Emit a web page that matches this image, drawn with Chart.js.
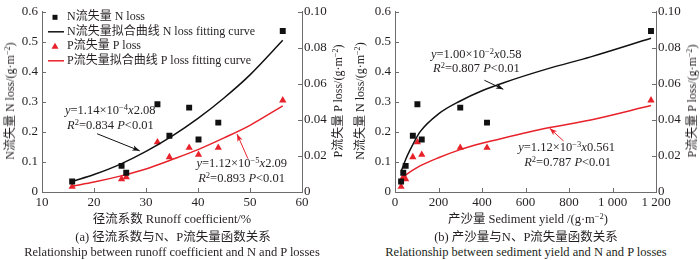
<!DOCTYPE html>
<html lang="zh-CN">
<head>
<meta charset="UTF-8">
<title>径流系数、产沙量与N、P流失量函数关系</title>
<script src="https://cdn.jsdelivr.net/npm/chart.js"></script>
<style>
  body {
    margin: 0;
    width: 700px;
    height: 260px;
    overflow: hidden;
    position: relative;
    background: #fff;
    color: #231f20;
    font-family: "Liberation Serif", "Noto Sans CJK SC", serif;
  }
  .box { position: absolute; top: 0; width: 350px; height: 210px; }
  .txt { position: absolute; white-space: nowrap; font-size: 12.5px; line-height: 1; }
  .mid { transform: translate(-50%, -50%); }
  .rgt { transform: translate(-100%, -50%); }
  .lft { transform: translate(0, -50%); }
  .ytitle {
    position: absolute; white-space: nowrap; font-size: 12px; line-height: 1;
    transform: translate(-50%, -50%) rotate(-90deg);
  }
  sup { font-size: 68%; vertical-align: 0.5em; line-height: 0; }
</style>
</head>
<body>
  <div class="box" style="left:0"><canvas id="chartA"></canvas></div>
  <div class="box" style="left:350px"><canvas id="chartB"></canvas></div>

  <!-- titulos dos eixos y -->
  <div class="ytitle" style="left:10px;top:101px">N流失量 N loss/(g·m<sup>−2</sup>)</div>
  <div class="ytitle" style="left:338px;top:101px">P流失量 P loss/(g·m<sup>−2</sup>)</div>
  <div class="ytitle" style="left:360px;top:101px">N流失量 N loss/(g·m<sup>−2</sup>)</div>
  <div class="ytitle" style="left:692px;top:101px">P流失量 P loss/(g·m<sup>−2</sup>)</div>

  <!-- equacoes -->
  <div class="txt lft" style="left:65px;top:110px"><i>y</i>=1.14×10<sup>−4</sup><i>x</i>2.08</div>
  <div class="txt lft" style="left:67px;top:125px"><i>R</i><sup>2</sup>=0.834 <i>P</i>&lt;0.01</div>
  <div class="txt rgt" style="left:287px;top:163px"><i>y</i>=1.12×10<sup>−5</sup><i>x</i>2.09</div>
  <div class="txt rgt" style="left:285px;top:178px"><i>R</i><sup>2</sup>=0.893 <i>P</i>&lt;0.01</div>
  <div class="txt lft" style="left:431px;top:54px"><i>y</i>=1.00×10<sup>−2</sup><i>x</i>0.58</div>
  <div class="txt lft" style="left:433px;top:68px"><i>R</i><sup>2</sup>=0.807 <i>P</i>&lt;0.01</div>
  <div class="txt rgt" style="left:615px;top:147px"><i>y</i>=1.12×10<sup>−3</sup><i>x</i>0.561</div>
  <div class="txt rgt" style="left:611px;top:162px"><i>R</i><sup>2</sup>=0.787 <i>P</i>&lt;0.01</div>

  <!-- titulos x e legendas das figuras -->
  <div class="txt mid" style="left:172px;top:219px">径流系数 Runoff coefficient/%</div>
  <div class="txt mid" style="left:173px;top:237px">(a) 径流系数与N、P流失量函数关系</div>
  <div class="txt mid" style="left:172px;top:252px">Relationship between runoff coefficient and N and P losses</div>
  <div class="txt mid" style="left:528px;top:219px">产沙量 Sediment yield /(g·m<sup>−2</sup>)</div>
  <div class="txt mid" style="left:526px;top:237px">(b) 产沙量与N、P流失量函数关系</div>
  <div class="txt mid" style="left:526px;top:252px">Relationship between sediment yield and N and P losses</div>

<script>
  // eventos (mesma ordem nos dois graficos)
  const runoffCoef    = [15.8, 25.3, 26.2, 32.2, 34.5, 38.3, 40.1, 43.9, 56.3];
  const sedimentYield = [28, 49, 38, 103, 82, 300, 123, 423, 1177];
  const nLoss = [0.035, 0.087, 0.064, 0.292, 0.187, 0.281, 0.175, 0.231, 0.536];
  const pLoss = [0.0030, 0.0072, 0.0083, 0.0276, 0.0194, 0.0246, 0.0207, 0.0246, 0.0509];

  // curvas ajustadas
  const fitRunoffX = [16, 20, 25, 30, 35, 40, 45, 50, 56.3];
  const fitRunoffN = [0.036, 0.058, 0.092, 0.135, 0.186, 0.245, 0.313, 0.390, 0.505];
  const fitRunoffP = [0.0033, 0.0055, 0.0088, 0.0128, 0.0180, 0.0235, 0.0300, 0.0370, 0.0478];
  const fitSedX = [30, 50, 80, 115, 200, 300, 400, 500, 700, 900, 1177];
  const fitSedN = [0.072, 0.110, 0.155, 0.200, 0.260, 0.303, 0.337, 0.364, 0.410, 0.450, 0.512];
  const fitSedP = [0.0075, 0.0095, 0.0120, 0.0145, 0.0190, 0.0235, 0.0270, 0.0300, 0.0355, 0.0400, 0.0480];

  // eixos
  const runoffTicks = [10, 20, 30, 40, 50, 60];
  const runoffLabels = ['10', '20', '30', '40', '50', '60'];
  const sedTicks = [0, 200, 400, 600, 800, 1000, 1200];
  const sedLabels = ['0', '200', '400', '600', '800', '1 000', '1 200'];
  const nTicks = [0, 0.1, 0.2, 0.3, 0.4, 0.5, 0.6];
  const nLabels = ['0', '0.1', '0.2', '0.3', '0.4', '0.5', '0.6'];
  const pTicks = [0, 0.02, 0.04, 0.06, 0.08, 0.10];
  const pLabels = ['0', '0.02', '0.04', '0.06', '0.08', '0.10'];

  const BLACK = '#111111';
  const RED = '#e8222a';
  const AXIS = '#6d6d6d';
  const FONT = '"Liberation Serif", "Noto Sans CJK SC", serif';

  const pts = (xs, ys) => xs.map((x, i) => ({ x: x, y: ys[i] }));

  // ticks para dentro
  const innerTicks = {
    id: 'innerTicks',
    afterDraw(chart) {
      const ctx = chart.ctx, a = chart.chartArea;
      ctx.save();
      ctx.strokeStyle = AXIS;
      ctx.lineWidth = 1;
      ['x', 'y', 'y2'].forEach(id => {
        const s = chart.scales[id];
        s.ticks.forEach((t, i) => {
          const p = Math.round(s.getPixelForTick(i)) + 0.5;
          ctx.beginPath();
          if (id === 'x') { ctx.moveTo(p, a.bottom); ctx.lineTo(p, a.bottom - 4); }
          else if (id === 'y') { ctx.moveTo(a.left, p); ctx.lineTo(a.left + 4, p); }
          else { ctx.moveTo(a.right, p); ctx.lineTo(a.right - 4, p); }
          ctx.stroke();
        });
      });
      ctx.restore();
    }
  };

  // legenda dentro da area do grafico
  const insideLegend = {
    id: 'insideLegend',
    afterDraw(chart, args, o) {
      if (!o.show) return;
      const ctx = chart.ctx, a = chart.chartArea;
      ctx.save();
      ctx.font = '12px ' + FONT;
      ctx.textBaseline = 'middle';
      ctx.fillStyle = '#231f20';
      chart.data.datasets.forEach((ds, i) => {
        const y = a.top + 5.5 + i * 14.5;
        const cx = a.left + 13;
        ctx.fillStyle = ds.borderColor;
        ctx.strokeStyle = ds.borderColor;
        if (ds.showLine) {
          ctx.lineWidth = 1.5;
          ctx.beginPath(); ctx.moveTo(cx - 7, y); ctx.lineTo(cx + 9, y); ctx.stroke();
        } else if (ds.pointStyle === 'rect') {
          ctx.fillRect(cx - 2.5, y - 2.5, 5, 5);
        } else {
          ctx.beginPath();
          ctx.moveTo(cx, y - 3.5); ctx.lineTo(cx + 3.5, y + 2.5); ctx.lineTo(cx - 3.5, y + 2.5);
          ctx.closePath(); ctx.fill();
        }
        ctx.fillStyle = '#231f20';
        ctx.fillText(ds.label, a.left + 25, y);
      });
      ctx.restore();
    }
  };

  // setas das equacoes
  const arrows = {
    id: 'arrows',
    afterDraw(chart, args, o) {
      const ctx = chart.ctx, sx = chart.scales.x;
      (o.list || []).forEach(ar => {
        const sy = chart.scales[ar.axis];
        const x1 = sx.getPixelForValue(ar.from[0]), y1 = sy.getPixelForValue(ar.from[1]);
        const x2 = sx.getPixelForValue(ar.to[0]), y2 = sy.getPixelForValue(ar.to[1]);
        const ang = Math.atan2(y2 - y1, x2 - x1);
        const L = 8, W = 0.35;
        ctx.save();
        ctx.strokeStyle = ar.color;
        ctx.fillStyle = ar.color;
        ctx.lineWidth = 1;
        ctx.beginPath(); ctx.moveTo(x1, y1); ctx.lineTo(x2, y2); ctx.stroke();
        ctx.beginPath();
        ctx.moveTo(x2, y2);
        ctx.lineTo(x2 - L * Math.cos(ang - W), y2 - L * Math.sin(ang - W));
        ctx.lineTo(x2 - L * 0.7 * Math.cos(ang), y2 - L * 0.7 * Math.sin(ang));
        ctx.lineTo(x2 - L * Math.cos(ang + W), y2 - L * Math.sin(ang + W));
        ctx.closePath(); ctx.fill();
        ctx.restore();
      });
    }
  };

  function makeScales(xTicks, xLabels, xMin, xMax, leftW, rightW) {
    const tickFont = { family: FONT, size: 13 };
    const fixed = (arr) => (s) => { s.ticks = arr.map(v => ({ value: v })); };
    return {
      x: {
        type: 'linear', position: 'bottom', min: xMin, max: xMax,
        grid: { display: false, drawTicks: false },
        border: { display: true, color: AXIS, width: 1 },
        afterBuildTicks: fixed(xTicks),
        afterFit: s => { s.height = 18; },
        ticks: { font: tickFont, color: '#231f20', padding: 3, maxRotation: 0, autoSkip: false,
                 callback: (v, i) => xLabels[i] }
      },
      y: {
        position: 'left', min: 0, max: 0.6,
        grid: { display: false, drawTicks: false },
        border: { display: true, color: AXIS, width: 1 },
        afterBuildTicks: fixed(nTicks),
        afterFit: s => { s.width = leftW; },
        ticks: { font: tickFont, color: '#231f20', padding: 4, autoSkip: false,
                 callback: (v, i) => nLabels[i] }
      },
      y2: {
        position: 'right', min: 0, max: 0.1,
        grid: { display: false, drawTicks: false },
        border: { display: true, color: AXIS, width: 1 },
        afterBuildTicks: fixed(pTicks),
        afterFit: s => { s.width = rightW; },
        ticks: { font: tickFont, color: '#231f20', padding: 2, autoSkip: false,
                 callback: (v, i) => pLabels[i] }
      }
    };
  }

  function makeDatasets(xs, fitX, fitN, fitP) {
    return [
      { label: 'N流失量 N loss', data: pts(xs, nLoss), yAxisID: 'y', showLine: false,
        pointStyle: 'rect', pointRadius: 4.2, backgroundColor: BLACK, borderColor: BLACK, borderWidth: 0 },
      { label: 'N流失量拟合曲线 N loss fitting curve', data: pts(fitX, fitN), yAxisID: 'y', showLine: true,
        pointRadius: 0, borderColor: BLACK, borderWidth: 1.5, cubicInterpolationMode: 'monotone' },
      { label: 'P流失量 P loss', data: pts(xs, pLoss), yAxisID: 'y2', showLine: false,
        pointStyle: 'triangle', pointRadius: 4.2, backgroundColor: RED, borderColor: RED, borderWidth: 0 },
      { label: 'P流失量拟合曲线 P loss fitting curve', data: pts(fitX, fitP), yAxisID: 'y2', showLine: true,
        pointRadius: 0, borderColor: RED, borderWidth: 1.5, cubicInterpolationMode: 'monotone' }
    ];
  }

  function baseOptions(scales, showLegend, arrowList) {
    return {
      responsive: false,
      animation: false,
      layout: { padding: { top: 10, left: 0, right: 0, bottom: 0 } },
      scales: scales,
      plugins: {
        legend: { display: false },
        tooltip: { enabled: false },
        insideLegend: { show: showLegend },
        arrows: { list: arrowList }
      }
    };
  }

  function setupCanvas(id) {
    const c = document.getElementById(id);
    c.width = 350; c.height = 210;
    c.style.width = '350px'; c.style.height = '210px';
    return c;
  }

  new Chart(setupCanvas('chartA'), {
    type: 'scatter',
    data: { datasets: makeDatasets(runoffCoef, fitRunoffX, fitRunoffN, fitRunoffP) },
    options: baseOptions(makeScales(runoffTicks, runoffLabels, 10, 60, 42, 48), true, [
      { axis: 'y', color: BLACK, from: [20.6, 0.194], to: [28.8, 0.137] },
      { axis: 'y2', color: RED, from: [49.6, 0.0185], to: [47.5, 0.0322] }
    ]),
    plugins: [innerTicks, insideLegend, arrows]
  });

  new Chart(setupCanvas('chartB'), {
    type: 'scatter',
    data: { datasets: makeDatasets(sedimentYield, fitSedX, fitSedN, fitSedP) },
    options: baseOptions(makeScales(sedTicks, sedLabels, 0, 1200, 45, 44), false, [
      { axis: 'y', color: BLACK, from: [411, 0.372], to: [498, 0.342] },
      { axis: 'y2', color: RED, from: [775, 0.0283], to: [711, 0.0354] }
    ]),
    plugins: [innerTicks, insideLegend, arrows]
  });
</script>
</body>
</html>
